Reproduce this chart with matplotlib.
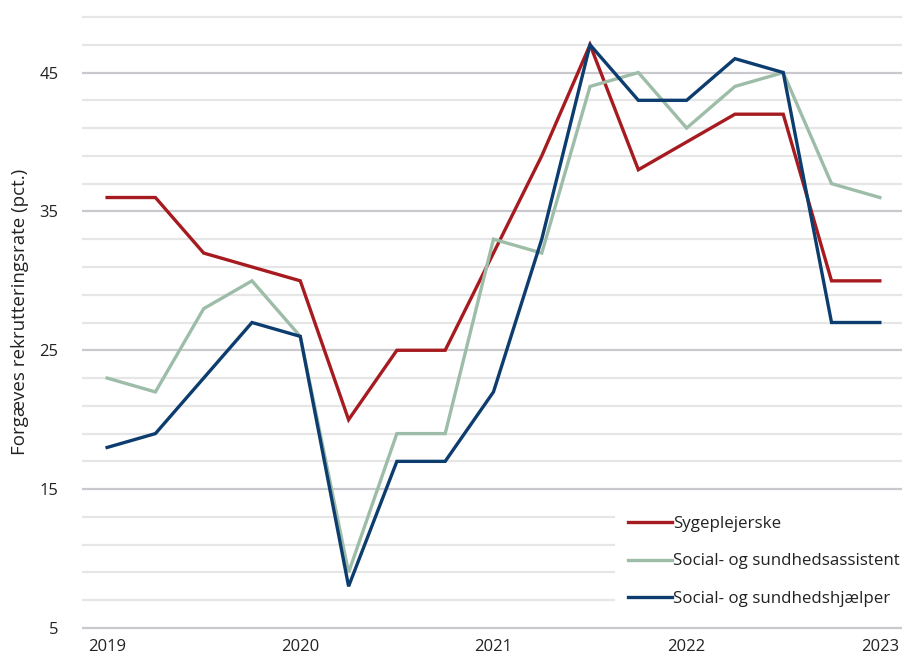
import numpy as np
import matplotlib
matplotlib.use('Agg')
import matplotlib.pyplot as plt
from matplotlib.patches import Rectangle

plt.rcParams['font.family'] = ['Open Sans', 'DejaVu Sans']

# quarterly observations, 2019Q1 .. 2023Q1
quarters = list(range(17))
year_ticks = [0, 4, 8, 12, 16]
year_labels = ['2019', '2020', '2021', '2022', '2023']

sygeplejerske = [36, 36, 32, 31, 30, 20, 25, 25, 32, 39, 47, 38, 40, 42, 42, 30, 30]
sosu_assistent = [23, 22, 28, 30, 26, 9, 19, 19, 33, 32, 44, 45, 41, 44, 45, 37, 36]
sosu_hjaelper = [18, 19, 23, 27, 26, 8, 17, 17, 22, 33, 47, 43, 43, 46, 45, 27, 27]

series_names = ['Sygeplejerske', 'Social- og sundhedsassistent', 'Social- og sundhedshjælper']
colors = ['#a61b1f', '#9dbda8', '#0c3d6e']

W, H = 903, 660
fig = plt.figure(figsize=(W / 100, H / 100), dpi=100)

# axes placed in pixel terms
ymin, ymax = 4.7, 49.3
px_per_unit = 13.9
top_px = 17 - (ymax - 49) * px_per_unit
bot_px = 628 + (5 - ymin) * px_per_unit
ax = fig.add_axes([82 / W, 1 - bot_px / H, (W - 82) / W, (bot_px - top_px) / H])

ax.set_ylim(ymin, ymax)
ax.set_xlim(-0.52, 16.48)

# grid: every 2 pct, darker on labelled ticks
for v in np.arange(5, 50, 2):
    major = (v - 5) % 10 == 0
    ax.axhline(v, color='#c9c9cd' if major else '#e6e6e6', lw=1.6, zorder=0)

ax.set_yticks([5, 15, 25, 35, 45])
ax.set_xticks(year_ticks)
ax.set_xticklabels(year_labels)
ax.tick_params(axis='both', length=0, labelsize=12, colors='#222222')
ax.tick_params(axis='y', pad=17)
ax.tick_params(axis='x', pad=5)
for s in ax.spines.values():
    s.set_visible(False)

# white area behind legend
ax.add_patch(Rectangle((615 / W, 1 - 620 / H), (W - 615) / W, 122 / H,
                       transform=fig.transFigure, facecolor='white', edgecolor='none', zorder=1))

for vals, name, c in zip([sygeplejerske, sosu_assistent, sosu_hjaelper], series_names, colors):
    ax.plot(quarters, vals, color=c, lw=2.4, label=name, zorder=3, solid_joinstyle='miter')

leg = ax.legend(loc='upper left', bbox_to_anchor=(613 / W, 1 - 501 / H), bbox_transform=fig.transFigure,
                frameon=False, fontsize=12.2, handlelength=2.6, handletextpad=0.05, labelspacing=1.25)
for t in leg.get_texts():
    t.set_color('#222222')

fig.text(20 / W, 1 - 312 / H, 'Forgæves rekrutteringsrate (pct.)', rotation=90,
         ha='center', va='center', fontsize=13.5, color='#222222')

fig.savefig('out.png', dpi=100)
